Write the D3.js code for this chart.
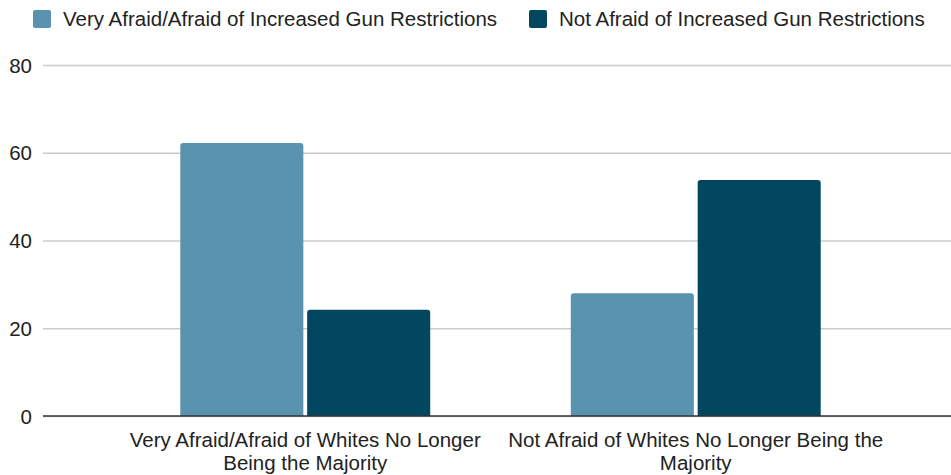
<!DOCTYPE html>
<html><head><meta charset="utf-8">
<script src="https://cdn.jsdelivr.net/npm/d3@7"></script>
<style>body{margin:0;background:#fff}svg{display:block}text{font-family:"Liberation Sans",Arial,sans-serif;fill:#222}</style>
</head><body><svg id="c" width="951" height="475"></svg>
<script>
const categories = [["Very Afraid/Afraid of Whites No Longer","Being the Majority"],["Not Afraid of Whites No Longer Being the","Majority"]];
const seriesNames = ["Very Afraid/Afraid of Increased Gun Restrictions","Not Afraid of Increased Gun Restrictions"];
const seriesA = [62.2, 28.0];
const seriesB = [24.2, 53.8];
const yTicks = [0,20,40,60,80];
const colors = ["#5a93b0","#03465f"];
const FS = "20.5px";

const svg = d3.select("#c");
const catKeys = categories.map((c,i)=>"c"+i);
const y = d3.scaleLinear().domain([0,80]).range([416,65]);
const x0 = d3.scaleBand().domain(catKeys).range([110,891]).paddingInner(0.36).paddingOuter(0.18);
const x1 = d3.scaleBand().domain([0,1]).range([0,x0.bandwidth()]).paddingInner(0.03);

// grid
const yAxis = d3.axisLeft(y).tickValues(yTicks).tickSize(-(951-43)).tickFormat(d3.format("d"));
const ga = svg.append("g").attr("transform","translate(43,0)").call(yAxis);
ga.select(".domain").remove();
ga.selectAll(".tick line").attr("stroke","#cccccc").attr("stroke-width",1.5);
ga.selectAll(".tick text").attr("x",-11).attr("dy","0.35em").style("font-size",FS).attr("fill","#222");

// bars
const data = catKeys.map((k,i)=>({k, vals:[seriesA[i],seriesB[i]]}));
const r = 3;
function topRounded(x,yT,w,h){
  return `M${x},${yT+h}V${yT+r}Q${x},${yT} ${x+r},${yT}H${x+w-r}Q${x+w},${yT} ${x+w},${yT+r}V${yT+h}Z`;
}
svg.append("g").selectAll("g").data(data).join("g")
  .attr("transform",d=>`translate(${x0(d.k)},0)`)
  .selectAll("path").data(d=>d.vals.map((v,j)=>({v,j}))).join("path")
  .attr("d",d=>topRounded(x1(d.j), y(d.v), x1.bandwidth(), y(0)-y(d.v)))
  .attr("fill",d=>colors[d.j]);

// baseline
svg.append("line").attr("x1",43).attr("x2",951).attr("y1",y(0)).attr("y2",y(0)).attr("stroke","#333").attr("stroke-width",1.5);

// x labels
svg.append("g").selectAll("text").data(categories).join("text")
  .attr("x",(d,i)=>x0(catKeys[i])+x0.bandwidth()/2)
  .attr("y",447).attr("text-anchor","middle").style("font-size",FS)
  .selectAll("tspan").data(d=>d).join("tspan")
  .attr("x",function(){return this.parentNode.getAttribute("x");})
  .attr("dy",(d,i)=>i===0?0:23).text(d=>d);

// legend
const legX = [33,529];
const lg = svg.append("g").selectAll("g").data(seriesNames).join("g")
  .attr("transform",(d,i)=>`translate(${legX[i]},10)`);
lg.append("rect").attr("width",18).attr("height",18).attr("rx",2).attr("fill",(d,i)=>colors[i]);
lg.append("text").attr("x",30).attr("y",9).attr("dy","0.35em").style("font-size",FS).text(d=>d);
</script></body></html>
